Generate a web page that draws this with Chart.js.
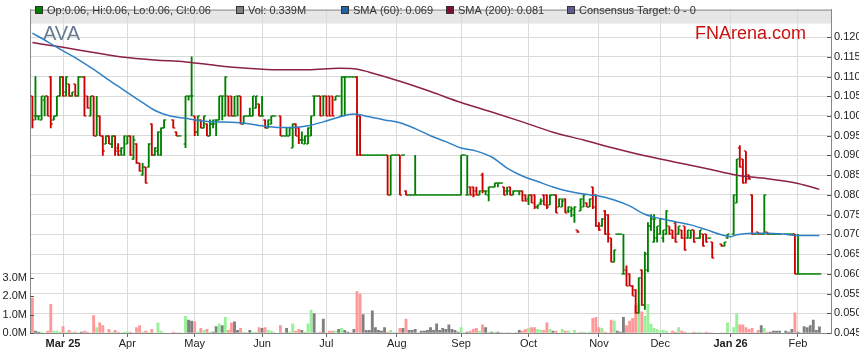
<!DOCTYPE html>
<html>
<head>
<meta charset="utf-8">
<script src="https://cdn.jsdelivr.net/npm/chart.js@4.4.1/dist/chart.umd.min.js"></script>
<style>
  html, body { margin: 0; padding: 0; background: #fff; }
  #chart { display: block; }
</style>
</head>
<body>
<canvas id="chart" width="859" height="363" style="width:859px;height:363px"></canvas>
<script>
// bar index = weekdays counted from Mon 3 Mar 2025 (index 0); nulls are ASX holidays
const firstDay = -10;

const opens = [
  .105,.100,.100,.099,.104,.105,.110,.099,.100,.105,
  .110,.106,.108,.105,.108,.105,.110,.110,.105,.100,
  .105,.095,.100,.095,.093,.095,.093,.095,.092,.091,
  .090,.093,.095,.089,.093,.088,.085,.087,.087,.098,
  .090,.091,.090,.097,null,null,.099,.096,.095,null,
  .093,.105,.105,.100,.096,.099,.097,.098,.095,.098,
  .099,.099,.105,.100,.105,.105,.100,.105,.105,.098,
  .100,.100,.100,.102,.103,.100,.099,.097,.098,.100,
  null,.100,.095,.095,.095,.092,.098,.097,.094,.093,
  .093,.095,.105,.105,.105,.105,.105,.105,.105,.104,
  .105,.100,.110,.110,.110,.110,.110,.100,.090,.090,
  .090,.090,.090,.090,.090,.090,.090,.080,.090,.090,
  .090,.090,.081,.080,.080,.080,.080,.080,.080,.080,
  .080,.080,.080,.080,.080,.080,.080,.080,.080,.080,
  .080,.090,.080,.082,.082,.081,.080,.085,.081,.080,
  .082,.082,.083,.083,.082,.081,.082,.080,.081,.081,
  .081,.080,.079,.080,.080,.077,.078,.080,.080,.0775,
  .080,.080,.077,.077,.079,.076,.076,.075,.071,.076,
  .077,.078,.077,.082,.080,.072,.072,.076,.075,.069,
  .063,.070,.070,.060,.061,.060,.057,.056,.050,.061,
  .052,.061,.072,.068,.069,.070,.069,.070,.072,.071,
  .073,.070,.071,.072,.069,.069,.071,.069,.069,.070,
  .070,.069,.068,null,null,.0675,.067,.069,null,.070,
  .078,.092,.089,.091,.085,.080,.070,.0705,.070,.070,
  .0705,.070,.070,.070,.070,null,.070,.070,.070,.070,
  .060,.060,.060,.060,.060,.060,.060,.060
];
const highs = [
  .105,.110,.100,.105,.105,.105,.110,.100,.105,.110,
  .110,.110,.108,.106,.108,.110,.110,.110,.105,.105,
  .105,.105,.100,.095,.095,.095,.095,.095,.093,.092,
  .095,.095,.095,.095,.093,.088,.088,.087,.093,.098,
  .092,.096,.097,.099,null,null,.099,.096,.095,null,
  .105,.105,.115,.100,.100,.099,.100,.098,.099,.099,
  .099,.105,.105,.110,.105,.105,.105,.105,.105,.100,
  .100,.102,.105,.105,.103,.105,.099,.099,.100,.100,
  null,.100,.095,.097,.097,.098,.098,.097,.096,.095,
  .097,.100,.105,.105,.105,.105,.105,.105,.105,.105,
  .105,.110,.110,.110,.110,.110,.110,.100,.090,.090,
  .090,.090,.090,.090,.090,.090,.090,.090,.090,.090,
  .090,.090,.081,.080,.080,.090,.080,.080,.080,.080,
  .080,.080,.080,.080,.080,.080,.080,.080,.080,.080,
  .090,.090,.090,.082,.082,.082,.081,.0855,.081,.082,
  .082,.083,.083,.083,.082,.082,.082,.081,.081,.081,
  .081,.080,.080,.080,.080,.0775,.079,.080,.080,.080,
  .080,.080,.079,.079,.079,.077,.077,.077,.071,.079,
  .080,.078,.079,.082,.080,.073,.074,.076,.075,.069,
  .066,.070,.070,.070,.062,.060,.057,.056,.059,.061,
  .0655,.073,.075,.075,.072,.074,.071,.076,.072,.071,
  .073,.072,.071,.072,.071,.071,.071,.069,.071,.070,
  .070,.069,.068,null,null,.0675,.068,.070,null,.080,
  .089,.0925,.089,.091,.085,.080,.070,.0705,.070,.080,
  .0705,.070,.070,.070,.070,null,.070,.070,.070,.070,
  .070,.060,.060,.060,.060,.060,.060,.060
];
const lows = [
  .097,.099,.099,.099,.100,.100,.097,.099,.100,.105,
  .105,.105,.105,.105,.105,.105,.110,.100,.102,.100,
  .095,.095,.095,.090,.093,.093,.092,.090,.090,.090,
  .090,.093,.090,.089,.088,.086,.085,.083,.087,.090,
  .090,.090,.090,.097,null,null,.097,.095,.095,null,
  .092,.104,.100,.095,.095,.097,.097,.095,.095,.097,
  .095,.099,.099,.100,.100,.100,.100,.100,.098,.098,
  .100,.100,.100,.102,.100,.100,.097,.097,.098,.100,
  null,.095,.095,.095,.095,.092,.095,.093,.093,.093,
  .093,.095,.100,.105,.100,.100,.100,.100,.100,.104,
  .105,.100,.100,.110,.110,.110,.090,.090,.090,.090,
  .090,.090,.090,.090,.090,.090,.080,.080,.090,.090,
  .080,.090,.080,.080,.080,.080,.080,.080,.080,.080,
  .080,.080,.080,.080,.080,.080,.080,.080,.080,.080,
  .080,.090,.080,.080,.0795,.080,.080,.0805,.080,.0785,
  .082,.082,.082,.083,.080,.080,.080,.080,.081,.080,
  .0785,.0785,.0775,.078,.0765,.0765,.0775,.0775,.0765,.0775,
  .080,.0755,.077,.077,.0755,.0755,.0745,.073,.0705,.076,
  .077,.077,.077,.0765,.072,.071,.072,.070,.068,.063,
  .063,.070,.070,.060,.057,.057,.0545,.050,.050,.052,
  .051,.0605,.071,.068,.068,.070,.068,.070,.070,.069,
  .068,.070,.069,.066,.069,.069,.068,.069,.069,.067,
  .068,.069,.064,null,null,.067,.067,.069,null,.070,
  .078,.087,.083,.083,.084,.070,.070,.070,.070,.070,
  .070,.070,.070,.070,.070,null,.070,.070,.070,.060,
  .060,.060,.060,.060,.060,.060,.060,.060
];
const closes = [
  .099,.100,.100,.105,.105,.100,.098,.100,.105,.110,
  .105,.110,.105,.106,.105,.110,.110,.100,.102,.105,
  .095,.100,.095,.091,.095,.093,.095,.091,.090,.092,
  .095,.095,.090,.094,.088,.086,.087,.083,.093,.090,
  .092,.096,.097,.099,null,null,.097,.095,.095,null,
  .105,.105,.105,.096,.100,.097,.100,.095,.098,.098,
  .099,.105,.105,.110,.100,.100,.100,.105,.098,.100,
  .100,.100,.105,.105,.100,.100,.097,.099,.100,.100,
  null,.095,.095,.095,.097,.098,.095,.094,.094,.095,
  .097,.100,.105,.105,.100,.105,.100,.100,.100,.105,
  .105,.110,.110,.110,.110,.110,.090,.090,.090,.090,
  .090,.090,.090,.090,.090,.090,.080,.090,.090,.090,
  .080,.090,.080,.080,.080,.080,.080,.080,.080,.080,
  .080,.080,.080,.080,.080,.080,.080,.080,.080,.080,
  .090,.090,.080,.080,.080,.080,.081,.081,.081,.082,
  .082,.083,.083,.083,.080,.081,.080,.081,.081,.081,
  .0785,.0785,.080,.078,.077,.0775,.0785,.0775,.077,.080,
  .080,.0755,.079,.0785,.0755,.077,.0765,.077,.0705,.079,
  .080,.077,.079,.077,.072,.071,.074,.070,.070,.063,
  .066,.070,.070,.060,.057,.057,.0545,.050,.059,.052,
  .065,.072,.074,.074,.072,.074,.071,.076,.070,.069,
  .068,.072,.069,.066,.071,.071,.068,.069,.071,.067,
  .068,.069,.064,null,null,.067,.068,.070,null,.080,
  .089,.087,.083,.084,.084,.070,.070,.070,.070,.080,
  .070,.070,.070,.070,.070,null,.070,.070,.070,.060,
  .060,.060,.060,.060,.060,.060,.060,.060
];
// volume, millions of shares
const volumes = [
  1.9,.1,.05,.05,0,.1,1.55,.1,.1,.05,
  .35,.05,.15,.05,.05,0,.05,.1,.05,0,
  .95,.3,.55,.4,0,.2,.05,.15,.05,0,
  .05,.05,.05,0,.3,.4,.05,.1,.05,.2,
  0,.55,.1,0,null,null,.05,0,0,null,
  .9,.7,.65,.6,.05,.25,.15,.2,.05,.05,
  .35,.5,.4,.85,.15,.55,.6,.15,.25,.05,
  0,.15,.05,.05,.3,.25,.3,.15,.1,0,
  null,.4,0,.25,.05,.5,.1,.2,.15,.05,
  .5,1.25,1.05,0,.05,.75,0,.1,.1,.1,
  .2,.25,.15,.05,0,.2,2.25,2.1,1.0,.15,
  .15,1.2,.3,.15,.1,.3,.05,.15,0,0,
  .25,.25,.75,.15,.15,.2,0,.1,.1,.15,
  .3,.15,.5,.15,.25,.2,.45,.2,.15,.05,
  .3,0,.05,.1,.2,.25,.1,.45,.3,.05,
  .05,.05,.05,0,0,0,0,0,0,.15,
  .1,.2,.25,.3,.3,.2,.15,.15,.55,.2,
  .1,.1,0,.2,.1,.1,0,.15,0,.05,
  .05,0,.05,.8,.85,.3,.25,.05,0,.7,
  .65,.1,.05,.85,.4,.65,.8,1.5,1.6,1.15,
  .9,1.55,.48,.25,.2,.1,.15,.1,0,.1,
  .05,.3,.1,.05,0,0,.05,0,.05,0,
  .05,0,0,null,null,0,0,.55,null,.3,
  1.05,.45,.45,.3,.2,.25,0,.15,.4,.25,
  .05,.05,.1,.1,.1,null,.1,.05,.2,1.1,
  .05,0,.35,.3,.4,.7,.15,.339
];

const sma60Days = [-10,-5,0,5,10,15,20,25,30,35, 40,45,50,55,60,65,70,75,80,85,
  90,95,100,105,110,115,120,125,130,135, 140,145,150,155,160,165,170,175,180,185,
  190,195,200,205,210,215,218,220,225,230, 235,240,247];
const sma60 = [.1210,.1188,.1165,.1143,.1118,.1091,.1065,.1039,.1014,.1000,
  .0994,.0988,.0985,.0984,.0981,.0975,.0971,.0971,.0975,.0985,
  .0997,.1005,.0998,.0990,.0983,.0968,.0950,.0935,.0919,.0911,
  .0896,.0868,.0848,.0834,.0820,.0809,.0802,.0797,.0787,.0772,
  .0751,.0740,.0732,.0724,.0712,.0699,.0694,.0699,.0703,.0703,
  .0701,.0697,.0697];
const sma200Days = [-10,0,10,20,30,40,50,60,70,80,90,95,100,110,120,130,140,150,160,170,180,190,200,210,220,230,240,247];
const sma200 = [.1186,.1174,.1161,.1149,.1142,.1137,.1128,.1121,.1117,.1117,.1121,.1120,.1111,.1088,
  .1062,.1034,.1010,.0985,.0959,.0939,.0918,.0899,.0883,.0867,.0850,.0841,.0829,.0814];

const tickDays = [0, 21, 43, 65, 86, 109, 130, 152, 175, 195, 218, 240];
const tickLabels = ['Mar 25', 'Apr', 'May', 'Jun', 'Jul', 'Aug', 'Sep', 'Oct', 'Nov', 'Dec', 'Jan 26', 'Feb'];
const yearLabels = ['Mar 25', 'Jan 26'];
const priceTicks = [0.045, 0.050, 0.055, 0.060, 0.065, 0.070, 0.075, 0.080,
  0.085, 0.090, 0.095, 0.100, 0.105, 0.110, 0.115, 0.120];
const volTicks = [0, 1, 2, 3];

const legendTexts = ['Op:0.06, Hi:0.06, Lo:0.06, Cl:0.06', 'Vol: 0.339M',
  'SMA (60): 0.069', 'SMA (200): 0.081', 'Consensus Target: 0 - 0'];
const stockCode = 'AVA';
const siteName = 'FNArena.com';

const UP = '#008000', DOWN = '#cc0000';
const FONT = '"Liberation Sans", Arial, sans-serif';

function tickMark(color, side) {
    const c = document.createElement('canvas');
    c.width = 6; c.height = 2;
    const g = c.getContext('2d');
    g.fillStyle = color;
    g.fillRect(side === 'open' ? 1 : 3, 0.4, 2, 1.2);
    return c;
}
const marks = {
    openUp: tickMark(UP, 'open'), openDown: tickMark(DOWN, 'open'),
    closeUp: tickMark(UP, 'close'), closeDown: tickMark(DOWN, 'close')
};

const hlData = [], openData = [], closeData = [], volData = [], volColors = [];
opens.forEach(function (o, k) {
    if (o === null) return;
    const day = firstDay + k;
    const up = closes[k] >= o;
    hlData.push({ x: day, y: [lows[k], highs[k]], up: up });
    openData.push({ x: day, y: o, up: up });
    closeData.push({ x: day, y: closes[k], up: up });
    volData.push({ x: day, y: volumes[k] });
    volColors.push(closes[k] > o ? '#98f098' : (closes[k] < o ? '#ff9999' : '#808080'));
});

const decor = {
    id: 'decor',
    beforeDraw(chart) {
        const { ctx, chartArea: a } = chart;
        ctx.save();
        ctx.fillStyle = '#e6e6e6';
        ctx.fillRect(a.left, a.top, a.right - a.left, 14);
        ctx.restore();
    },
    beforeDatasetsDraw(chart) {
        const ctx = chart.ctx;
        ctx.save();
        ctx.textBaseline = 'alphabetic';
        ctx.fillStyle = '#6a7c92';
        ctx.font = '20px ' + FONT;
        ctx.fillText(stockCode, 43, 39.5);
        ctx.fillStyle = '#cc1111';
        ctx.font = '18px ' + FONT;
        ctx.fillText(siteName, 695, 38.5);
        ctx.restore();
    },
    afterDraw(chart) {
        const { ctx, chartArea: a } = chart;
        const py = chart.scales.y, vy = chart.scales.yVol;
        ctx.save();
        // frame top and inward ticks
        ctx.strokeStyle = '#888';
        ctx.lineWidth = 1;
        ctx.beginPath();
        ctx.moveTo(a.left, a.top + 0.5); ctx.lineTo(a.right, a.top + 0.5);
        ctx.stroke();
        ctx.strokeStyle = '#555';
        ctx.beginPath();
        priceTicks.forEach(function (v) {
            const y = Math.round(py.getPixelForValue(v)) + 0.5;
            ctx.moveTo(a.right - 4, y); ctx.lineTo(a.right, y);
        });
        volTicks.forEach(function (v) {
            const y = Math.round(vy.getPixelForValue(v)) + 0.5;
            ctx.moveTo(a.left, y); ctx.lineTo(a.left + 4, y);
        });
        ctx.stroke();

        // legend strip
        const boxX = [35, 236, 341, 446, 567];
        const boxColors = ['#008000', '#808080', '#1f64a8', '#7a1030', '#5c5c8e'];
        ctx.font = '11px ' + FONT;
        ctx.textBaseline = 'middle';
        legendTexts.forEach(function (t, k) {
            ctx.fillStyle = boxColors[k];
            ctx.fillRect(boxX[k], 6, 8, 8);
            ctx.strokeStyle = '#333';
            ctx.strokeRect(boxX[k] + 0.5, 6.5, 7, 7);
            ctx.fillStyle = '#333';
            ctx.fillText(t, boxX[k] + 12, 10.5);
        });
        ctx.restore();
    }
};

Chart.defaults.font.family = FONT;
Chart.defaults.font.size = 11;
Chart.defaults.color = '#333';

new Chart(document.getElementById('chart'), {
    type: 'bar',
    data: {
        datasets: [
            {
                type: 'line', label: 'Open', data: openData, yAxisID: 'y', showLine: false,
                pointRadius: 3, pointHitRadius: 0, order: 1,
                pointStyle: ctx => ctx.raw && ctx.raw.up ? marks.openUp : marks.openDown
            },
            {
                type: 'line', label: 'Close', data: closeData, yAxisID: 'y', showLine: false,
                pointRadius: 3, pointHitRadius: 0, order: 1,
                pointStyle: ctx => ctx.raw && ctx.raw.up ? marks.closeUp : marks.closeDown
            },
            {
                type: 'bar', label: 'High-Low', data: hlData, yAxisID: 'y', grouped: false,
                barThickness: 1.2, order: 2,
                backgroundColor: ctx => ctx.raw && ctx.raw.up ? UP : DOWN
            },
            {
                type: 'line', label: 'SMA (60)', data: sma60Days.map((d, k) => ({ x: d, y: sma60[k] })),
                yAxisID: 'y', borderColor: '#2f80c4', borderWidth: 1.5, pointRadius: 0,
                cubicInterpolationMode: 'monotone', order: 0
            },
            {
                type: 'line', label: 'SMA (200)', data: sma200Days.map((d, k) => ({ x: d, y: sma200[k] })),
                yAxisID: 'y', borderColor: '#8c2048', borderWidth: 1.5, pointRadius: 0,
                cubicInterpolationMode: 'monotone', order: 0
            },
            {
                type: 'bar', label: 'Volume', data: volData, yAxisID: 'yVol', grouped: false,
                barThickness: 2.2, backgroundColor: volColors, order: 5
            }
        ]
    },
    options: {
        responsive: false,
        maintainAspectRatio: false,
        animation: false,
        devicePixelRatio: 1,
        layout: { padding: { top: 3, left: 0, right: 0, bottom: 0 } },
        plugins: { legend: { display: false }, tooltip: { enabled: false } },
        scales: {
            x: {
                type: 'linear', bounds: 'data', min: -10.78, max: 250.78, offset: false,
                grid: { color: '#dadada', tickColor: '#666', tickLength: 4, offset: false },
                border: { color: '#888' },
                ticks: {
                    autoSkip: false, maxRotation: 0, padding: 0, color: '#222',
                    font: ctx => ({ family: FONT, size: 11,
                        weight: yearLabels.includes(tickLabels[ctx.index]) ? 'bold' : 'normal' }),
                    callback: (v, i) => tickLabels[i]
                },
                afterBuildTicks: s => { s.ticks = tickDays.map(v => ({ value: v })); },
                afterFit: s => { s.height = 30; }
            },
            y: {
                position: 'right', bounds: 'data', min: 0.045, max: 0.12696,
                grid: { color: '#dadada', drawTicks: false },
                border: { color: '#888' },
                ticks: { padding: 3, color: '#222', callback: v => v.toFixed(3) },
                afterBuildTicks: s => { s.ticks = priceTicks.map(v => ({ value: v })); },
                afterFit: s => { s.width = 28; }
            },
            yVol: {
                position: 'left', bounds: 'data', min: 0, max: 17.55,
                grid: { drawOnChartArea: false, drawTicks: false },
                border: { color: '#888' },
                ticks: { padding: 3, color: '#222', callback: v => v.toFixed(1) + 'M' },
                afterBuildTicks: s => { s.ticks = volTicks.map(v => ({ value: v })); },
                afterFit: s => { s.width = 30; }
            }
        }
    },
    plugins: [decor]
});
</script>
</body>
</html>
